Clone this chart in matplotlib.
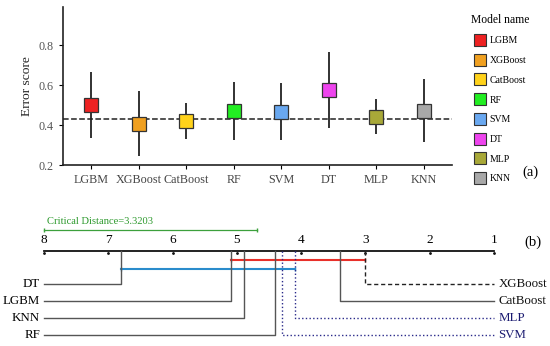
import matplotlib
matplotlib.use('Agg')
import matplotlib.pyplot as plt
from matplotlib.lines import Line2D

plt.rcParams['font.family'] = ['Liberation Serif', 'DejaVu Serif']

# panel (a): error score per model
models = ['LGBM', 'XGBoost', 'CatBoost', 'RF', 'SVM', 'DT', 'MLP', 'KNN']
score_mid = [0.50, 0.405, 0.42, 0.47, 0.465, 0.575, 0.44, 0.47]
score_low = [0.335, 0.245, 0.33, 0.325, 0.325, 0.385, 0.355, 0.315]
score_high = [0.665, 0.57, 0.51, 0.615, 0.61, 0.765, 0.53, 0.63]
colors = ['#ee2222', '#f0a020', '#ffd21a', '#22ee22', '#69a8f0', '#ee44ee',
          '#a8a838', '#a8a8a8']
mean_score = 0.43

# panel (b): average ranks (Nemenyi critical difference diagram)
cd_value = 3.3203
left_names = ['DT', 'LGBM', 'KNN', 'RF']
left_ranks = [6.8, 5.09, 4.89, 4.41]
right_names = ['XGBoost', 'CatBoost', 'MLP', 'SVM']
right_ranks = [3.0, 3.4, 4.10, 4.30]
groups = [(5.09, 3.0), (6.8, 4.10)]
group_colors = ['#e8302a', '#2a8ccc']

fig = plt.figure(figsize=(5.5, 3.46), dpi=100)

# ---- top panel ----
ax = fig.add_axes([63 / 550, 1 - 165 / 346, (452 - 63) / 550, (165 - 7) / 346])
xs = list(range(len(models)))
ax.vlines(xs, score_low, score_high, color='#222222', lw=1.3, zorder=2)
ax.axhline(mean_score, color='#222222', ls='--', lw=1.1, zorder=1)
for x, y, c in zip(xs, score_mid, colors):
    ax.plot(x, y, 's', ms=9.5, mfc=c, mec='#333333', mew=0.9, zorder=3)
ax.set_xlim(-0.6, 7.6)
ax.set_ylim(0.2, 0.99)
ax.set_yticks([0.2, 0.4, 0.6, 0.8])
ax.set_xticks(xs)
ax.set_xticklabels(models, fontsize=8.7, color='#444444')
ax.tick_params(axis='y', labelsize=8.7, labelcolor='#555555', length=3)
ax.tick_params(axis='x', length=3)
ax.set_ylabel('Error score', fontsize=9.7, color='#222222')
for s in ['top', 'right']:
    ax.spines[s].set_visible(False)
for s in ['left', 'bottom']:
    ax.spines[s].set_color('#222222')
    ax.spines[s].set_linewidth(1.2)

handles = [Line2D([], [], ls='', marker='s', ms=8, mfc=c, mec='#333333',
                  mew=0.8, label=m) for m, c in zip(models, colors)]
leg = fig.legend(handles=handles, title='Model name', loc='upper left',
                 bbox_to_anchor=(462 / 550, 1 - 5 / 346), frameon=False,
                 fontsize=7, title_fontsize=8.4, labelspacing=1.1,
                 handletextpad=0.4, handlelength=1.2)
fig.text(530 / 550, 1 - 172 / 346, '(a)', fontsize=10.5, ha='center',
         va='center')

# ---- bottom panel: CD diagram ----
bx = fig.add_axes([0, 0, 1, (346 - 190) / 346])
px = 64.29  # pixels per rank
bx.set_xlim(8 + 44 / px, 8 - (550 - 44) / px)
bx.set_ylim((346 - 251) / 17, (190 - 251) / 17)
bx.axis('off')

bx.plot([8, 1], [0, 0], color='#111111', lw=1.3)
for r in range(1, 9):
    bx.plot(r, 0.12, '.', color='#111111', ms=2)
    bx.text(r, -0.3, str(r), ha='center', va='bottom', fontsize=9.5)

bx.plot([8, 8 - cd_value], [-1.24, -1.24], color='#3ca03c', lw=0.9,
        marker='|', ms=3)
bx.text(8 - 0.05, -1.5, 'Critical Distance=%.4f' % cd_value,
        color='#2e9a2e', fontsize=7.6, ha='left', va='bottom')

for (a, b), c in zip(groups, group_colors):
    y = 0.53 if c == group_colors[0] else 1.06
    bx.plot([a, b], [y, y], color=c, lw=1.5, marker='|', ms=3, zorder=2)

row_y = [1.94, 2.94, 3.94, 4.94]
for name, r, y in zip(left_names, left_ranks, row_y):
    bx.plot([r, r, 8], [0, y, y], color='#555555', lw=1.0, zorder=3)
    bx.text(8 + 0.06, y, name, ha='right', va='center', fontsize=9.3)

right_styles = [('#222222', (0, (3, 2)), '#111111'),
                ('#555555', '-', '#111111'),
                ('#2a2a8a', ':', '#1a1a70'),
                ('#2a2a8a', ':', '#1a1a70')]
for name, r, y, (lc, ls, tc) in zip(right_names, right_ranks, row_y,
                                     right_styles):
    bx.plot([r, r, 1], [0, y, y], color=lc, ls=ls, lw=1.0, zorder=3)
    bx.text(1 - 0.07, y, name, ha='left', va='center', fontsize=9.3,
            color=tc)

fig.text(533 / 550, 1 - 242 / 346, '(b)', fontsize=10.5, ha='center',
         va='center')

fig.savefig('out.png', dpi=100)
